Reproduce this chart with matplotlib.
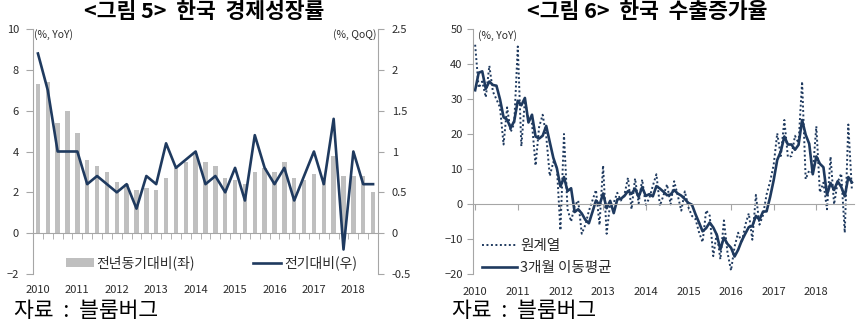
import matplotlib.pyplot as plt
import numpy as np
from matplotlib.patches import Patch
from matplotlib.lines import Line2D

plt.rcParams['font.family'] = ['Noto Sans CJK KR', 'DejaVu Sans']

# <그림 5> quarterly, 2010Q1 - 2018Q3
gdp_yoy = [7.3, 7.4, 5.4, 6.0, 4.9, 3.6, 3.3, 3.0, 2.5, 2.4, 2.1, 2.2,
           2.1, 2.7, 3.2, 3.5, 3.9, 3.5, 3.3, 2.7, 2.6, 2.4, 3.0, 3.2,
           3.0, 3.5, 2.7, 2.6, 2.9, 2.7, 3.8, 2.8, 2.8, 2.8, 2.0]
gdp_qoq = [2.2, 1.75, 1.0, 1.0, 1.0, 0.6, 0.7, 0.6, 0.5, 0.6, 0.3, 0.7,
           0.6, 1.1, 0.8, 0.9, 1.0, 0.6, 0.7, 0.5, 0.8, 0.4, 1.2, 0.8,
           0.6, 0.8, 0.4, 0.7, 1.0, 0.6, 1.4, -0.2, 1.0, 0.6, 0.6]
years = ['2010', '2011', '2012', '2013', '2014', '2015', '2016', '2017', '2018']

# <그림 6> monthly export growth, 2010.01 - 2018.11
exp_raw = [45.5, 33.2, 35.0, 30.5, 39.5, 32.1, 29.9, 27.6, 17.0, 27.6, 20.6, 23.0,
           45.0, 16.5, 29.5, 24.0, 23.0, 11.0, 22.0, 25.5, 19.5, 8.0, 12.0, 10.5,
           -7.5, 20.0, -1.5, -5.0, -0.5, 1.0, -8.5, -6.0, -2.0, 1.0, 4.0, -6.0,
           11.0, -8.5, 0.2, 0.4, 3.2, 1.0, 2.6, 7.5, -1.5, 7.3, 0.2, 7.0,
           -0.2, 1.6, 5.2, 8.5, -0.5, 2.5, 5.6, -0.1, 6.5, 2.5, -1.9, 3.6,
           -0.9, -3.4, -4.3, -8.1, -10.9, -1.8, -3.3, -14.9, -8.3, -15.8, -4.7, -13.8,
           -19.0, -12.2, -8.2, -11.2, -6.0, -2.7, -10.2, 2.6, -5.9, -3.2, 2.7, 6.4,
           11.2, 20.2, 13.7, 24.0, 13.4, 13.7, 19.5, 17.4, 35.0, 7.1, 9.6, 8.9,
           22.2, 3.3, 6.1, -1.5, 13.5, -0.1, 6.2, 8.7, -8.2, 22.7, 4.1]
exp_ma3 = [32.5, 37.5, 37.9, 32.9, 35.0, 34.0, 33.8, 29.9, 24.8, 24.1, 21.7, 23.7,
           29.5, 28.2, 30.3, 23.3, 25.5, 19.3, 18.7, 19.5, 22.3, 17.7, 13.2, 10.2,
           5.0, 7.7, 3.7, 4.5, -2.3, -1.5, -2.7, -4.5, -5.5, -2.3, 1.0, -0.3,
           3.0, -1.2, 0.9, -2.6, 1.3, 1.5, 2.3, 3.7, 2.9, 4.4, 2.0, 4.8,
           2.3, 2.8, 2.2, 5.1, 4.4, 3.5, 2.5, 2.7, 4.0, 3.0, 2.4, 1.4,
           0.3, -0.2, -2.9, -5.3, -7.8, -6.9, -5.3, -6.7, -8.8, -13.0, -9.6, -11.4,
           -12.5, -15.0, -13.1, -10.5, -8.5, -6.6, -6.3, -3.4, -4.5, -2.2, -2.1, 2.0,
           6.8, 12.6, 15.0, 19.3, 17.0, 17.0, 15.5, 16.9, 24.0, 19.8, 17.2, 8.5,
           13.6, 11.5, 10.5, 2.6, 6.0, 4.0, 6.5, 4.9, 2.2, 7.7, 6.2]

NAVY = '#1F3A5F'
GREY = '#A6A6A6'
BAR = '#BFBFBF'
TXT = '#2B2B2B'

W, H = 867, 329
fig = plt.figure(figsize=(W / 100, H / 100), dpi=100)


def px_axes(l, t, r, b):
    return fig.add_axes([l / W, 1 - b / H, (r - l) / W, (b - t) / H])


# ---------- left: GDP growth ----------
ax1 = px_axes(33, 29, 378, 274)
q = np.arange(len(gdp_yoy))
ax1.bar(q, gdp_yoy, width=0.45, color=BAR, zorder=2)
ax1.set_xlim(-0.5, len(q) - 0.5)
ax1.set_ylim(-2, 10)
ax1.set_yticks(range(-2, 11, 2))
for s in ['top', 'right']:
    ax1.spines[s].set_visible(False)
ax1.spines['left'].set_color(GREY)
ax1.spines['bottom'].set_position(('data', 0))
ax1.spines['bottom'].set_color(GREY)
ax1.set_xticks(q[::4], years)
ax1.set_xticks(np.arange(-0.5, len(q)), minor=True)
ax1.tick_params(axis='x', which='major', length=0, pad=37, labelsize=8, labelcolor=TXT)
ax1.tick_params(axis='x', which='minor', length=4, color=GREY)
ax1.tick_params(axis='y', length=5, color=GREY, pad=5, labelsize=8, labelcolor=TXT)

ax2 = ax1.twinx()
ax2.plot(q, gdp_qoq, color=NAVY, lw=1.9)
ax2.set_ylim(-0.5, 2.5)
ax2.set_yticks([-0.5, 0, 0.5, 1, 1.5, 2, 2.5], ['-0.5', '0', '0.5', '1', '1.5', '2', '2.5'])
for s in ['top', 'left', 'bottom']:
    ax2.spines[s].set_visible(False)
ax2.spines['right'].set_color(GREY)
ax2.tick_params(axis='y', length=4, color=GREY, pad=6, labelsize=8, labelcolor=TXT)

ax1.text(0.004, 0.976, '(%, YoY)', transform=ax1.transAxes, ha='left', va='center',
         fontsize=7.5, color=TXT)
ax1.text(0.997, 0.976, '(%, QoQ)', transform=ax1.transAxes, ha='right', va='center',
         fontsize=7.5, color=TXT)

h_bar = Patch(facecolor=BAR, edgecolor='none')
h_line = Line2D([], [], color=NAVY, lw=1.9)
ax2.legend([h_bar, h_line], ['전년동기대비(좌)', '전기대비(우)'], ncol=2, loc='center',
           bbox_to_anchor=(0.517, 0.045), frameon=False, fontsize=10, handlelength=2.0,
           handletextpad=0.2, columnspacing=4.2, labelcolor=TXT)

# ---------- right: export growth ----------
ax3 = px_axes(473, 29, 854, 274)
m = np.arange(len(exp_raw))
ax3.plot(m, exp_raw, color=NAVY, lw=1.4, linestyle=(0, (1, 1.3)))
ax3.plot(m, exp_ma3, color=NAVY, lw=1.9)
ax3.set_xlim(-0.6, len(m) - 0.4)
ax3.set_ylim(-20, 50)
ax3.set_yticks(range(-20, 51, 10))
for s in ['top', 'right']:
    ax3.spines[s].set_visible(False)
ax3.spines['left'].set_color(GREY)
ax3.spines['bottom'].set_position(('data', 0))
ax3.spines['bottom'].set_color(GREY)
ax3.set_xticks(m[::12], years)
ax3.tick_params(axis='x', length=4, color=GREY, pad=56, labelsize=8, labelcolor=TXT)
ax3.tick_params(axis='y', length=4, color=GREY, pad=3.5, labelsize=8, labelcolor=TXT)
ax3.text(0.012, 0.972, '(%, YoY)', transform=ax3.transAxes, ha='left', va='center',
         fontsize=7.5, color=TXT)

h_dot = Line2D([], [], color=NAVY, lw=1.4, linestyle=(0, (1, 1.3)))
h_ma = Line2D([], [], color=NAVY, lw=1.9)
ax3.legend([h_dot, h_ma], ['원계열', '3개월 이동평균'], loc='lower left',
           bbox_to_anchor=(0.024, -0.005), borderpad=0, borderaxespad=0,
           frameon=False, fontsize=10.5, handlelength=2.4, handletextpad=0.2,
           labelspacing=0.55, labelcolor=TXT)

# ---------- titles and sources ----------
fig.text(204 / W, 1 - 12 / H, '<그림 5>  한국  경제성장률', ha='center', va='center',
         fontsize=15.5, fontweight='bold')
fig.text(647 / W, 1 - 12 / H, '<그림 6>  한국  수출증가율', ha='center', va='center',
         fontsize=15.5, fontweight='bold')
fig.text(14 / W, 1 - 311 / H, '자료  :  블룸버그', ha='left', va='center', fontsize=15.5)
fig.text(452 / W, 1 - 311 / H, '자료  :  블룸버그', ha='left', va='center', fontsize=15.5)

fig.savefig('out.png', dpi=100)
